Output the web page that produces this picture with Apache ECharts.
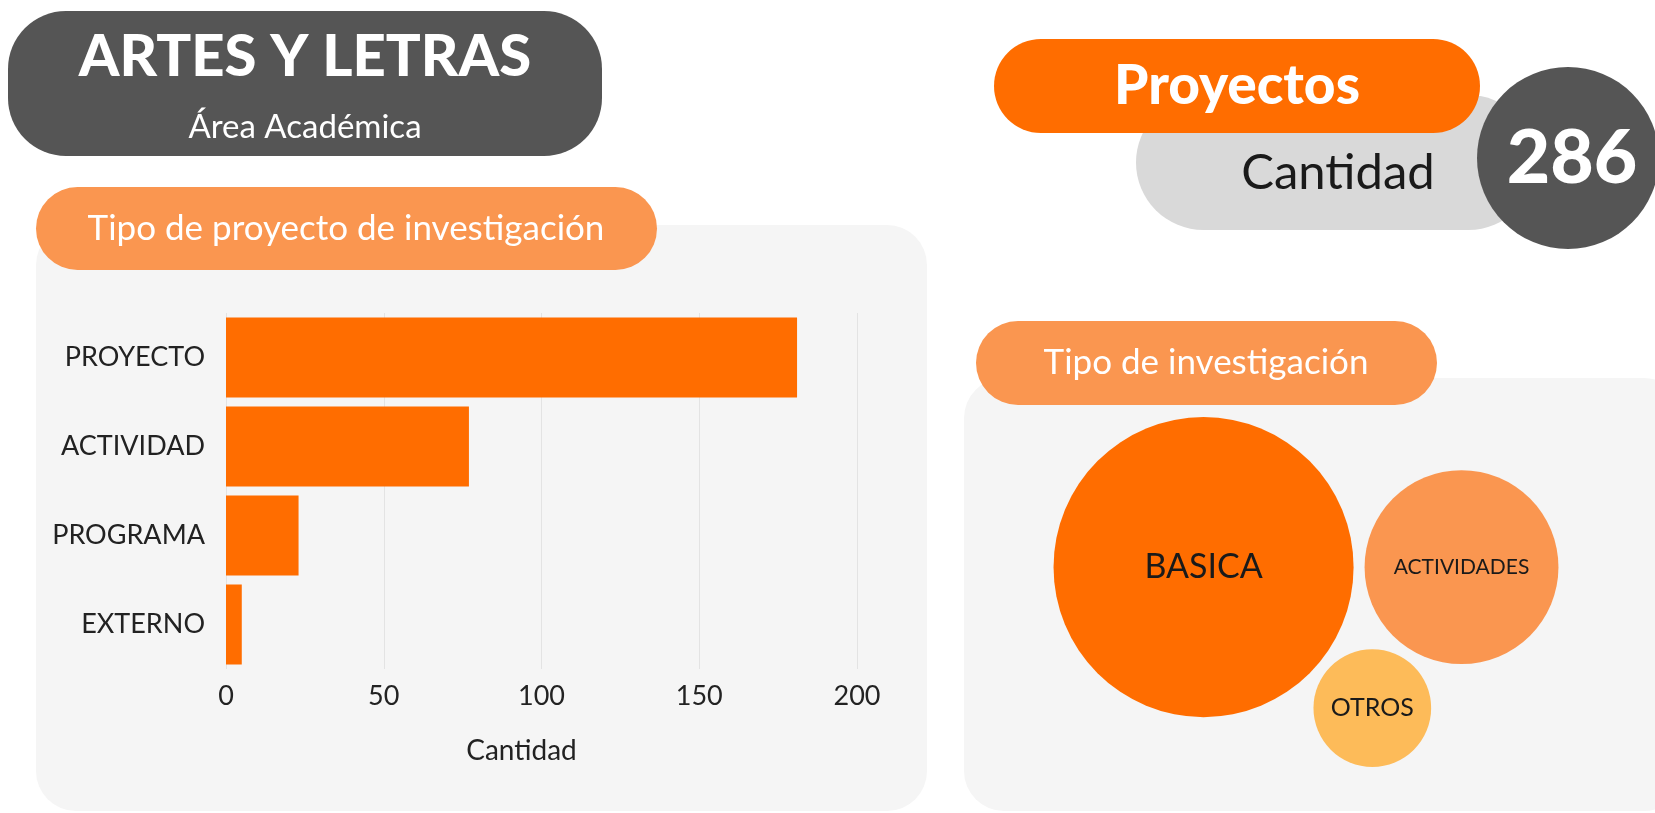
<!DOCTYPE html>
<html>
<head>
<meta charset="utf-8">
<script src="https://cdn.jsdelivr.net/npm/echarts@6/dist/echarts.min.js"></script>
<style>
  html, body { margin: 0; padding: 0; background: #ffffff; }
  #main { width: 1655px; height: 813px; }
</style>
</head>
<body>
<div id="main"></div>
<script>
  // data
  const areaName = "ARTES Y LETRAS";
  const totalProyectos = 286;
  const tipoProyecto = ["PROYECTO", "ACTIVIDAD", "PROGRAMA", "EXTERNO"];
  const tipoProyectoValores = [181, 77, 23, 5];
  const xTicks = [0, 50, 100, 150, 200];
  const tipoInvestigacion = ["BASICA", "ACTIVIDADES", "OTROS"];
  const tipoInvestigacionValores = [182, 76, 28];

  // styles
  const FONT = "Lato, 'Noto Sans', sans-serif";
  const ORANGE = "#FF6D00";
  const ORANGE_LIGHT = "#FA9650";
  const bubbleColors = [ORANGE, ORANGE_LIGHT, "#FDBB59"];
  const bubbleLabelSizes = [34, 21, 25];

  // simple packing: biggest bubble, second to its right, third tangent to both
  const K = 11.12, GAP = 11;
  const radii = tipoInvestigacionValores.map(v => K * Math.sqrt(v));
  function packBubbles(r) {
    const c = [[0, 0], [r[0] + r[1] + GAP, 0]];
    const b = c[1][0];
    const d0 = r[0] + r[2] + GAP, d1 = r[1] + r[2] + GAP;
    const x = (d0 * d0 - d1 * d1 + b * b) / (2 * b);
    c.push([x, Math.sqrt(Math.max(0, d0 * d0 - x * x))]);
    let minX = Infinity, maxX = -Infinity, minY = Infinity, maxY = -Infinity;
    c.forEach((p, i) => {
      minX = Math.min(minX, p[0] - r[i]); maxX = Math.max(maxX, p[0] + r[i]);
      minY = Math.min(minY, p[1] - r[i]); maxY = Math.max(maxY, p[1] + r[i]);
    });
    const cx = 1306, cy = 592; // centre of right panel
    const ox = cx - (minX + maxX) / 2, oy = cy - (minY + maxY) / 2;
    return c.map(p => [p[0] + ox, p[1] + oy]);
  }
  const centers = packBubbles(radii);

  const chart = echarts.init(document.getElementById("main"));

  const pill = (x, y, w, h, color, z) => ({
    type: "rect", z: z, shape: { x: x, y: y, width: w, height: h, r: h / 2 },
    style: { fill: color }
  });
  const label = (x, y, text, size, weight, color, z) => ({
    type: "text", z: z, x: x, y: y,
    style: { text: text, font: weight + " " + size + "px " + FONT, fill: color, align: "center", verticalAlign: "middle" }
  });

  const option = {
    backgroundColor: "#ffffff",
    textStyle: { fontFamily: FONT },
    animation: false,
    graphic: [
      // panels
      { type: "rect", z: -5, shape: { x: 36, y: 225, width: 891, height: 586, r: 40 }, style: { fill: "#F5F5F5" } },
      { type: "rect", z: -5, shape: { x: 964, y: 378, width: 720, height: 433, r: 40 }, style: { fill: "#F5F5F5" } },
      // header
      { type: "rect", z: 1, shape: { x: 8, y: 11, width: 594, height: 145, r: 58 }, style: { fill: "#555555" } },
      label(305, 57, areaName, 58, 900, "#ffffff", 2),
      label(305, 127, "Área Académica", 33, 400, "#ffffff", 2),
      // KPI
      pill(1136, 95, 400, 135, "#D9D9D9", 1),
      label(1338, 173, "Cantidad", 49, 400, "#1a1a1a", 2),
      pill(994, 39, 486, 94, ORANGE, 3),
      label(1237, 86, "Proyectos", 55, 900, "#ffffff", 4),
      { type: "circle", z: 5, shape: { cx: 1568, cy: 158, r: 91 }, style: { fill: "#555555" } },
      label(1572, 159, String(totalProyectos), 75, 900, "#ffffff", 6),
      // section titles
      pill(36, 187, 621, 83, ORANGE_LIGHT, 1),
      label(346, 229, "Tipo de proyecto de investigación", 35, 400, "#ffffff", 2),
      pill(976, 321, 461, 84, ORANGE_LIGHT, 1),
      label(1206, 363, "Tipo de investigación", 35, 400, "#ffffff", 2)
    ],
    grid: [
      { left: 226, right: 798, top: 313, bottom: 144 },
      { left: 0, right: 0, top: 0, bottom: 0 }
    ],
    xAxis: [
      {
        gridIndex: 0, type: "value", min: xTicks[0], max: xTicks[xTicks.length - 1], interval: 50,
        name: "Cantidad", nameLocation: "middle", nameGap: 68,
        nameTextStyle: { fontSize: 28, color: "#222", fontFamily: FONT, padding: [0, 40, 0, 0] },
        axisLine: { show: false }, axisTick: { show: false },
        axisLabel: { fontSize: 27, color: "#222", margin: 14, fontFamily: FONT },
        splitLine: { show: true, lineStyle: { color: "#E3E3E3", width: 1 } }
      },
      { gridIndex: 1, type: "value", min: 0, max: 1655, show: false }
    ],
    yAxis: [
      {
        gridIndex: 0, type: "category", data: tipoProyecto, inverse: true,
        axisLine: { show: false }, axisTick: { show: false },
        axisLabel: { fontSize: 27, color: "#222", margin: 21, fontFamily: FONT }
      },
      { gridIndex: 1, type: "value", min: 0, max: 813, inverse: true, show: false }
    ],
    series: [
      {
        type: "bar", xAxisIndex: 0, yAxisIndex: 0,
        data: tipoProyectoValores, barCategoryGap: "10%",
        itemStyle: { color: ORANGE }
      },
      {
        type: "scatter", xAxisIndex: 1, yAxisIndex: 1, z: 3,
        data: tipoInvestigacion.map((name, i) => ({
          name: name,
          value: [centers[i][0], centers[i][1], tipoInvestigacionValores[i]],
          symbolSize: radii[i] * 2,
          itemStyle: { color: bubbleColors[i], opacity: 1 },
          label: { fontSize: bubbleLabelSizes[i] }
        })),
        label: { show: true, position: "inside", formatter: "{b}", color: "#1a1a1a", fontFamily: FONT }
      }
    ]
  };

  chart.setOption(option);
</script>
</body>
</html>
